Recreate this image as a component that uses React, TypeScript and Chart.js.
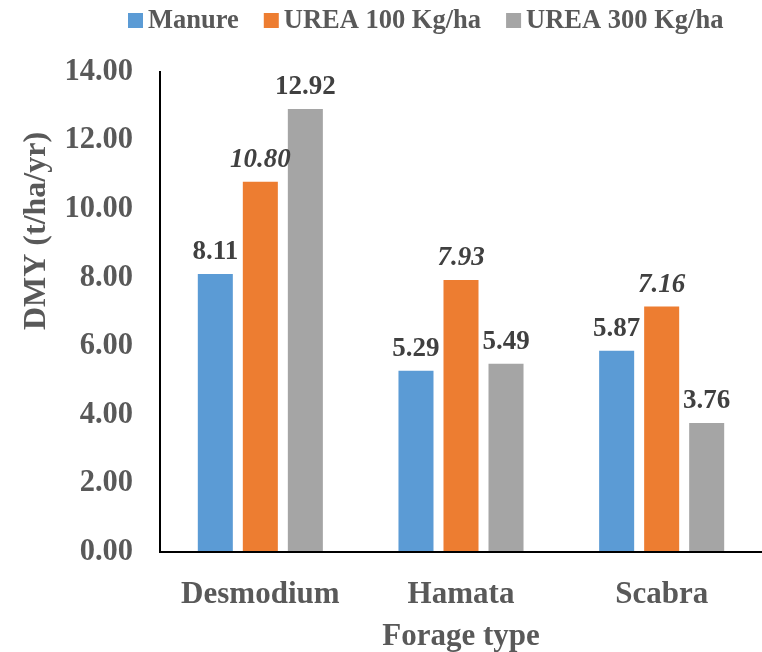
import React, { useEffect, useRef } from "react";
import { Chart, registerables } from "chart.js";

Chart.register(...registerables);

const categories = ["Desmodium", "Hamata", "Scabra"];
const seriesNames = ["Manure", "UREA 100 Kg/ha", "UREA 300 Kg/ha"];
const manure = [8.11, 5.29, 5.87];
const urea100 = [10.8, 7.93, 7.16];
const urea300 = [12.92, 5.49, 3.76];
const yTicks = [0, 2, 4, 6, 8, 10, 12, 14];
const yTitle = "DMY (t/ha/yr)";
const xTitle = "Forage type";

const colors = ["#5B9BD5", "#ED7D31", "#A5A5A5"];
const italicSeries = [false, true, false];
const FONT = "'Liberation Serif', 'Times New Roman', serif";
const TEXT = "#595959";
const LABEL = "#404040";

const labelPlugin = {
  id: "dataLabels",
  afterDatasetsDraw(chart: any) {
    const ctx = chart.ctx;
    ctx.save();
    ctx.textAlign = "center";
    ctx.textBaseline = "alphabetic";
    ctx.fillStyle = LABEL;
    chart.data.datasets.forEach((ds: any, di: number) => {
      const meta = chart.getDatasetMeta(di);
      ctx.font = `${italicSeries[di] ? "italic " : ""}bold 27px ${FONT}`;
      meta.data.forEach((el: any, i: number) => {
        ctx.fillText(Number(ds.data[i]).toFixed(2), el.x, el.y - 15);
      });
    });
    ctx.restore();
  },
};

const legendAndTitlePlugin = {
  id: "customLegendTitle",
  afterDraw(chart: any) {
    const ctx = chart.ctx;
    ctx.save();
    // legend
    ctx.font = `bold 26.5px ${FONT}`;
    ctx.textBaseline = "middle";
    ctx.textAlign = "left";
    let x = 128;
    const cy = 20;
    seriesNames.forEach((name, i) => {
      ctx.fillStyle = colors[i];
      ctx.fillRect(x, cy - 7, 15, 15);
      x += 15 + 5;
      ctx.fillStyle = TEXT;
      ctx.fillText(name, x, cy + 1);
      x += ctx.measureText(name).width + 25;
    });
    // y title
    ctx.font = `bold 32px ${FONT}`;
    ctx.translate(37, 231);
    ctx.rotate(-Math.PI / 2);
    ctx.textAlign = "center";
    ctx.textBaseline = "middle";
    ctx.fillStyle = TEXT;
    ctx.fillText(yTitle, 0, 0);
    ctx.restore();
  },
};

export default function App() {
  const ref = useRef<HTMLCanvasElement>(null);
  useEffect(() => {
    if (!ref.current) return;
    const seriesData = [manure, urea100, urea300];
    const chart = new Chart(ref.current, {
      type: "bar",
      data: {
        labels: categories,
        datasets: seriesNames.map((name, i) => ({
          label: name,
          data: seriesData[i],
          backgroundColor: colors[i],
          borderWidth: 0,
          categoryPercentage: 0.673,
          barPercentage: 0.778,
        })),
      },
      options: {
        responsive: false,
        animation: false,
        layout: { padding: { top: 72, left: 0, right: 0, bottom: 0 } },
        plugins: {
          legend: { display: false },
          tooltip: { enabled: false },
        },
        scales: {
          x: {
            grid: { display: false, drawTicks: false },
            border: { display: true, color: "#000", width: 2, z: 1 },
            ticks: {
              color: TEXT,
              font: { family: FONT, size: 31, weight: "bold" },
              padding: 24,
              maxRotation: 0,
            },
            title: {
              display: true,
              text: xTitle,
              color: TEXT,
              font: { family: FONT, size: 31, weight: "bold" },
              padding: { top: 0, bottom: -4 },
            },
            afterFit(scale: any) {
              scale.height = 100;
            },
          },
          y: {
            min: 0,
            max: 14,
            grid: { display: false, drawTicks: false },
            border: { display: true, color: "#000", width: 2, z: 1 },
            ticks: {
              color: TEXT,
              font: { family: FONT, size: 30.5, weight: "bold" },
              padding: 27,
              callback: (v: any) => Number(v).toFixed(2),
            },
            afterBuildTicks(scale: any) {
              scale.ticks = yTicks.map((v) => ({ value: v }));
            },
            afterFit(scale: any) {
              scale.width = 160;
            },
          },
        },
      },
      plugins: [labelPlugin, legendAndTitlePlugin],
    } as any);
    return () => chart.destroy();
  }, []);
  return (
    <div style={{ position: "absolute", left: 0, top: 0, width: 762, height: 652, background: "#fff" }}>
      <canvas ref={ref} width={762} height={652} style={{ display: "block" }} />
    </div>
  );
}
